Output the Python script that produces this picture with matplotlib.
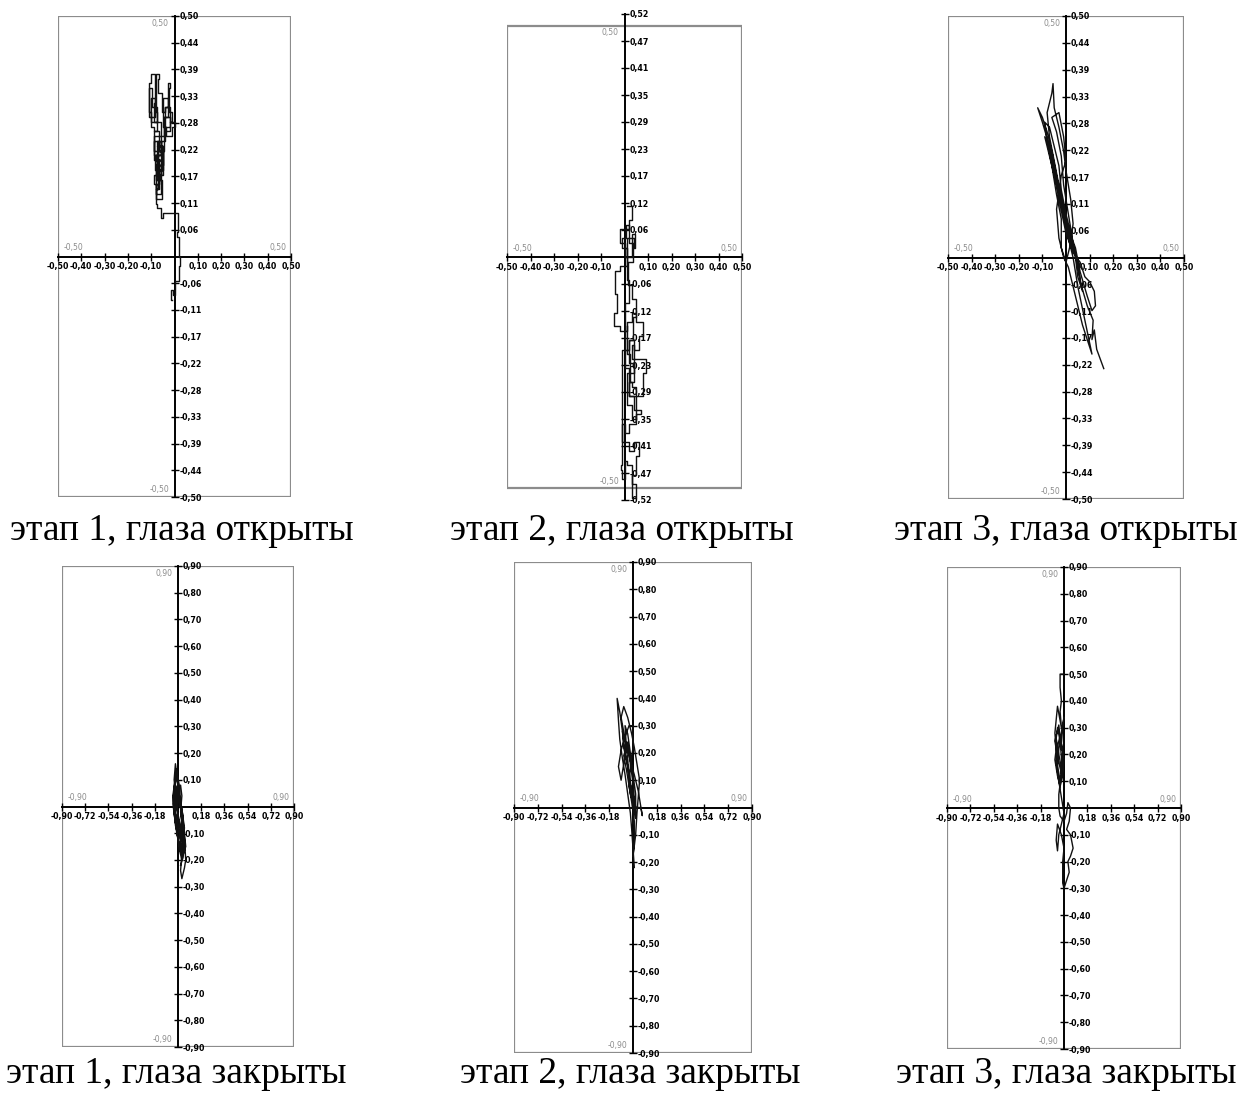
import numpy as np
import matplotlib
matplotlib.use("Agg")
import matplotlib.pyplot as plt
from matplotlib.patches import Rectangle

W, H = 1241, 1101

# ---------------- data ----------------
captions = ["этап 1, глаза открыты", "этап 2, глаза открыты", "этап 3, глаза открыты",
            "этап 1, глаза закрыты", "этап 2, глаза закрыты", "этап 3, глаза закрыты"]

xt_open = ['-0,50', '-0,40', '-0,30', '-0,20', '-0,10', '0,10', '0,20', '0,30', '0,40', '0,50']
xt_closed = ['-0,90', '-0,72', '-0,54', '-0,36', '-0,18', '0,18', '0,36', '0,54', '0,72', '0,90']
yt_open = ['0,06', '0,11', '0,17', '0,22', '0,28', '0,33', '0,39', '0,44', '0,50']
yt_open2 = ['0,06', '0,12', '0,17', '0,23', '0,29', '0,35', '0,41', '0,47', '0,52']
yt_closed = ['0,10', '0,20', '0,30', '0,40', '0,50', '0,60', '0,70', '0,80', '0,90']

# stage 1, eyes open
p1_x = [-0.01, -0.015, -0.005, 0.0, 0.02, 0.025, 0.02, 0.01, 0.015, -0.05, -0.06, -0.075, -0.08,
        -0.09, -0.07, -0.065, -0.08, -0.06, -0.075, -0.055, -0.07, -0.05, -0.065, -0.09, -0.10,
        -0.11, -0.10, -0.085, -0.09, -0.075, -0.08, -0.065, -0.07, -0.055, -0.04, -0.03, -0.02,
        -0.025, -0.01, -0.02, -0.04, -0.035, -0.01, 0.0, -0.02, -0.045, -0.06, -0.075, -0.08,
        -0.065, -0.07, -0.08, -0.06, -0.085, -0.07, -0.09, -0.06, -0.075, -0.05, -0.065,
        -0.08, -0.055, -0.07, -0.09, -0.06, -0.10, -0.085, -0.11, -0.095, -0.075, -0.09, -0.06,
        -0.045, -0.03, -0.05, -0.02, -0.04, -0.06, -0.075, -0.055, -0.07, -0.05, -0.065, -0.08]
p1_y = [-0.09, -0.07, -0.08, -0.05, -0.02, 0.0, 0.04, 0.05, 0.09, 0.08, 0.10, 0.11, 0.15,
        0.17, 0.16, 0.20, 0.21, 0.24, 0.23, 0.19, 0.18, 0.22, 0.26, 0.27, 0.30,
        0.36, 0.38, 0.32, 0.28, 0.30, 0.38, 0.37, 0.34, 0.30, 0.31, 0.36, 0.35,
        0.30, 0.28, 0.26, 0.27, 0.25, 0.27, 0.28, 0.29, 0.22, 0.20, 0.19, 0.16,
        0.17, 0.14, 0.13, 0.18, 0.21, 0.24, 0.20, 0.17, 0.23, 0.19, 0.15,
        0.12, 0.16, 0.21, 0.25, 0.28, 0.33, 0.29, 0.35, 0.31, 0.26, 0.22, 0.25,
        0.29, 0.33, 0.27, 0.31, 0.24, 0.21, 0.18, 0.20, 0.23, 0.17, 0.14, 0.19]

# stage 2, eyes open
p2_x = [0.01, 0.02, 0.03, 0.02, -0.01, -0.02, 0.0, 0.01, 0.04, 0.045, 0.03, 0.01, -0.02, -0.04,
        -0.03, -0.045, -0.02, 0.01, 0.03, 0.05, 0.08, 0.06, 0.04, 0.03, 0.06, 0.09, 0.08, 0.05,
        0.03, 0.02, 0.04, 0.07, 0.05, 0.02, 0.0, -0.01, 0.02, 0.04, 0.06, 0.05, 0.03, 0.05, 0.03,
        0.01, 0.0, -0.01, -0.015, -0.01, 0.02, 0.04, 0.01, 0.03, 0.05, 0.02, 0.0, 0.02, 0.01,
        -0.01, 0.005, 0.02, 0.035, 0.015, 0.03, 0.05, 0.035, 0.02, 0.04, 0.025, 0.01]
p2_y = [0.11, 0.11, 0.08, 0.06, 0.06, 0.03, 0.0, 0.04, 0.02, 0.05, 0.0, -0.02, -0.03, -0.08,
        -0.12, -0.15, -0.16, -0.14, -0.12, -0.14, -0.17, -0.20, -0.19, -0.22, -0.22, -0.25, -0.30, -0.28,
        -0.27, -0.30, -0.33, -0.34, -0.36, -0.38, -0.36, -0.40, -0.42, -0.40, -0.43, -0.47, -0.49, -0.52, -0.45,
        -0.44, -0.48, -0.46, -0.45, -0.20, -0.18, -0.25, -0.32, -0.35, -0.30, -0.24, -0.10, -0.05, 0.02,
        0.04, 0.07, 0.03, -0.01, -0.06, -0.09, -0.13, -0.18, -0.23, -0.27, -0.21, -0.15]

# stage 3, eyes open
p3_x = [0.16, 0.13, 0.12, 0.11, 0.115, 0.09, 0.06, 0.05, 0.02, 0.0, -0.02, -0.04, -0.06, -0.08,
        -0.10, -0.12, -0.10, -0.07, -0.05, -0.03, 0.0, 0.03, 0.06, 0.08, 0.10, 0.12, 0.125, 0.11,
        0.09, 0.06, 0.04, 0.01, -0.01, -0.03, -0.05, -0.07, -0.08, -0.06, -0.055, -0.05, -0.03,
        -0.01, 0.0, 0.02, 0.03, 0.02, 0.0, -0.02, -0.02, -0.04, -0.06, -0.08, -0.09, -0.07, -0.05,
        -0.03, -0.02, 0.0, 0.02, 0.04, 0.05, 0.07, 0.05, 0.03, 0.01, -0.01, -0.02, -0.04, -0.06,
        -0.03, -0.01, 0.0, -0.02, -0.04, -0.03, -0.01, 0.01, 0.03, 0.05, 0.07, 0.09, 0.11,
        0.08, 0.05, 0.03, 0.0, -0.02, -0.05, -0.07, -0.09, -0.06, -0.04, -0.02, 0.01, 0.03, 0.06]
p3_y = [-0.23, -0.19, -0.15, -0.17, -0.13, -0.10, -0.05, -0.01, 0.03, 0.07, 0.12, 0.17, 0.22, 0.26,
        0.29, 0.31, 0.28, 0.23, 0.18, 0.12, 0.05, 0.01, -0.01, -0.04, -0.05, -0.07, -0.10, -0.11,
        -0.08, -0.03, 0.02, 0.06, 0.10, 0.15, 0.20, 0.25, 0.30, 0.34, 0.36, 0.31, 0.27,
        0.22, 0.18, 0.12, 0.07, 0.03, -0.01, 0.02, 0.08, 0.13, 0.19, 0.24, 0.28, 0.27, 0.23,
        0.19, 0.14, 0.09, 0.05, 0.0, -0.04, -0.07, -0.02, 0.03, 0.09, 0.15, 0.21, 0.26, 0.29,
        0.30, 0.25, 0.20, 0.17, 0.10, 0.04, 0.0, -0.02, -0.06, -0.10, -0.14, -0.17, -0.20,
        -0.13, -0.06, 0.0, 0.06, 0.11, 0.17, 0.21, 0.25, 0.22, 0.16, 0.11, 0.06, 0.02, -0.02]

# stage 1, eyes closed
p4_x = [0.0, -0.02, -0.03, -0.02, -0.01, 0.0, 0.01, 0.03, 0.04, 0.02, 0.0, -0.02, -0.03, -0.02,
        0.0, 0.02, 0.03, 0.02, 0.03, 0.05, 0.06, 0.04, 0.02, 0.01, -0.01, -0.03, -0.04, -0.02,
        -0.01, 0.0, 0.02, 0.04, 0.05, 0.06, 0.05, 0.03, 0.02, 0.03, 0.02, 0.0, -0.01, 0.01,
        -0.02, -0.03, -0.01, 0.02, 0.04, 0.03, 0.01, -0.01, -0.03, -0.02, 0.0, 0.01, 0.03,
        0.05, 0.04, 0.02, 0.0, -0.02, -0.04, -0.03, -0.01, 0.01, 0.02, 0.04, 0.03, 0.01,
        -0.02, -0.03, -0.01, 0.02, 0.03, 0.05, 0.04, 0.02]
p4_y = [0.0, 0.05, 0.10, 0.16, 0.12, 0.07, 0.02, -0.03, -0.08, -0.12, -0.08, -0.02, 0.03, 0.08,
        0.05, 0.08, 0.04, -0.02, -0.06, -0.10, -0.15, -0.18, -0.14, -0.10, -0.05, 0.0, 0.04, 0.11,
        0.14, 0.09, 0.0, -0.05, -0.12, -0.20, -0.23, -0.27, -0.24, -0.18, -0.10, -0.04, 0.02, 0.06,
        0.12, 0.06, -0.01, -0.07, -0.14, -0.20, -0.16, -0.09, -0.03, 0.03, 0.09, 0.04, -0.01,
        -0.08, -0.13, -0.17, -0.12, -0.06, 0.01, 0.07, 0.13, 0.08, 0.02, -0.04, -0.11, -0.15,
        -0.07, 0.0, 0.05, -0.01, -0.06, -0.14, -0.19, -0.22]

# stage 2, eyes closed
p5_x = [0.01, 0.0, -0.01, -0.02, -0.04, -0.06, -0.08, -0.10, -0.11, -0.12, -0.10, -0.08, -0.07,
        -0.04, -0.02, 0.0, 0.02, 0.02, 0.0, -0.02, -0.04, -0.06, -0.05, -0.07, -0.09, -0.11,
        -0.09, -0.06, -0.03, 0.0, 0.0, -0.02, -0.03, -0.01, 0.01, 0.01, 0.0, 0.02, 0.03, 0.04,
        0.05, 0.03, 0.01, -0.01, -0.04, -0.07, -0.09, -0.06, -0.04, -0.03, 0.0, 0.02, 0.06, 0.07,
        0.04, 0.01, -0.02, -0.05, -0.08, -0.06, -0.03, -0.01, 0.01, -0.02, -0.05, -0.07, -0.04,
        -0.02, 0.0, 0.01, 0.0]
p5_y = [-0.22, -0.15, -0.08, -0.02, 0.05, 0.12, 0.18, 0.25, 0.32, 0.40, 0.35, 0.28, 0.22,
        0.15, 0.08, 0.02, -0.04, 0.05, 0.12, 0.20, 0.27, 0.30, 0.22, 0.16, 0.10, 0.15,
        0.21, 0.26, 0.30, 0.30, 0.22, 0.15, 0.08, 0.02, -0.05, -0.12, -0.18, -0.10, -0.02, 0.04,
        0.10, 0.16, 0.22, 0.27, 0.33, 0.37, 0.33, 0.25, 0.18, 0.10, 0.05, 0.0, 0.0, -0.03,
        0.06, 0.12, 0.17, 0.23, 0.28, 0.20, 0.13, 0.06, 0.0, 0.05, 0.14, 0.19, 0.24, 0.16,
        0.09, 0.03, -0.06]

# stage 3, eyes closed
p6_x = [0.0, -0.03, -0.03, -0.02, -0.03, -0.02, -0.05, -0.06, -0.07, -0.06, -0.07, -0.05, -0.03,
        -0.01, 0.0, -0.02, -0.01, 0.0, -0.02, -0.04, -0.05, -0.03, -0.02, -0.04, -0.06, -0.05,
        -0.03, -0.02, -0.01, -0.03, -0.04, -0.04, -0.03, 0.0, 0.02, 0.03, 0.05, 0.04, 0.02, 0.05,
        0.07, 0.05, 0.03, 0.04, 0.0, -0.01, -0.01, 0.0, -0.02, -0.05, -0.06, -0.05, -0.04, -0.02,
        0.0, -0.02, -0.04, -0.06, -0.05, -0.03, -0.01, -0.02, -0.05, -0.07, -0.04, -0.02]
p6_y = [0.50, 0.50, 0.45, 0.40, 0.36, 0.30, 0.38, 0.33, 0.28, 0.22, 0.18, 0.12, 0.08,
        0.12, 0.18, 0.24, 0.30, 0.34, 0.28, 0.22, 0.16, 0.10, 0.15, 0.20, 0.26, 0.30,
        0.25, 0.19, 0.14, 0.09, 0.05, 0.0, -0.03, -0.05, -0.02, 0.02, 0.0, -0.05, -0.08, -0.10,
        -0.15, -0.18, -0.20, -0.24, -0.30, -0.28, -0.20, -0.15, -0.10, -0.06, -0.12, -0.16, -0.10, -0.06,
        -0.02, 0.04, 0.10, 0.17, 0.23, 0.27, 0.21, 0.13, 0.19, 0.25, 0.31, 0.22]

# ---------------- layout ----------------
panels = [
    ((58, 291, 16, 497), 0.5, 0.5, 0.5, xt_open, yt_open, '0,50', (p1_x, p1_y), True),
    ((507, 742, 14, 500), 0.5, 0.525, 0.5, xt_open, yt_open2, '0,50', (p2_x, p2_y), True),
    ((948, 1184, 16, 499), 0.5, 0.5, 0.5, xt_open, yt_open, '0,50', (p3_x, p3_y), False),
    ((62, 294, 566, 1047), 0.9, 0.9, 0.9, xt_closed, yt_closed, '0,90', (p4_x, p4_y), False),
    ((514, 752, 562, 1053), 0.9, 0.9, 0.9, xt_closed, yt_closed, '0,90', (p5_x, p5_y), False),
    ((947, 1181, 567, 1049), 0.9, 0.9, 0.9, xt_closed, yt_closed, '0,90', (p6_x, p6_y), False),
]
caption_xy = [(182, 531), (622, 531), (1066, 531), (176, 1074), (630, 1074), (1066, 1074)]

fig = plt.figure(figsize=(W / 100, H / 100), dpi=100)
fig.patch.set_facecolor('white')

tick_font = dict(family='DejaVu Sans', size=6.3, weight='bold', stretch='condensed')
gray = '#8c8c8c'

for i, (rect, xl, yl, fl, xt, yt, corner, (px, py), steps) in enumerate(panels):
    l, r, t, b = rect
    ax = fig.add_axes([l / W, 1 - b / H, (r - l) / W, (b - t) / H])
    ax.set_xlim(-xl, xl)
    ax.set_ylim(-yl, yl)
    ax.set_facecolor('white')
    ax.add_patch(Rectangle((-fl, -fl), 2 * fl, 2 * fl, fill=False, edgecolor=gray, lw=1.6, zorder=1))

    ax.spines['top'].set_visible(False)
    ax.spines['left'].set_visible(False)
    ax.spines['bottom'].set_position(('data', 0))
    ax.spines['right'].set_position(('data', 0))
    for s in ('bottom', 'right'):
        ax.spines[s].set_color('black')
        ax.spines[s].set_linewidth(1.4)
        ax.spines[s].set_zorder(3)
    ax.yaxis.tick_right()
    ax.xaxis.tick_bottom()

    xpos = [float(s.replace(',', '.')) for s in xt]
    ax.set_xticks(xpos)
    ax.set_xticklabels(xt, fontdict=tick_font)
    ypos_pos = list(np.linspace(0, yl, len(yt) + 1)[1:])
    yticks = [-v for v in ypos_pos[::-1]] + ypos_pos
    ylabels = ['-' + s for s in yt[::-1]] + yt
    ax.set_yticks(yticks)
    ax.set_yticklabels(ylabels, fontdict=tick_font)
    ax.tick_params(axis='both', direction='inout', length=6, width=1.0, color='black', pad=1)
    ax.tick_params(axis='y', pad=0.5)

    ls = 'steps-post' if steps else 'default'
    ax.plot(px, py, color='#111111', lw=1.0, drawstyle=ls, zorder=4)

    cfont = dict(fontsize=5.5, color=gray, family='DejaVu Sans')
    ax.annotate(corner, xy=(0, fl), xytext=(-4, -2), textcoords='offset points', ha='right', va='top', **cfont)
    ax.annotate('-' + corner, xy=(-fl, 0), xytext=(4, 3), textcoords='offset points', ha='left', va='bottom', **cfont)
    ax.annotate(corner, xy=(fl, 0), xytext=(-3, 3), textcoords='offset points', ha='right', va='bottom', **cfont)
    ax.annotate('-' + corner, xy=(0, -fl), xytext=(-4, 2), textcoords='offset points', ha='right', va='bottom', **cfont)

    cx, cy = caption_xy[i]
    fig.text(cx / W, 1 - cy / H, captions[i], ha='center', va='center',
             family='Liberation Serif', fontsize=27, color='black')

fig.savefig('out.png', dpi=100, facecolor='white')
